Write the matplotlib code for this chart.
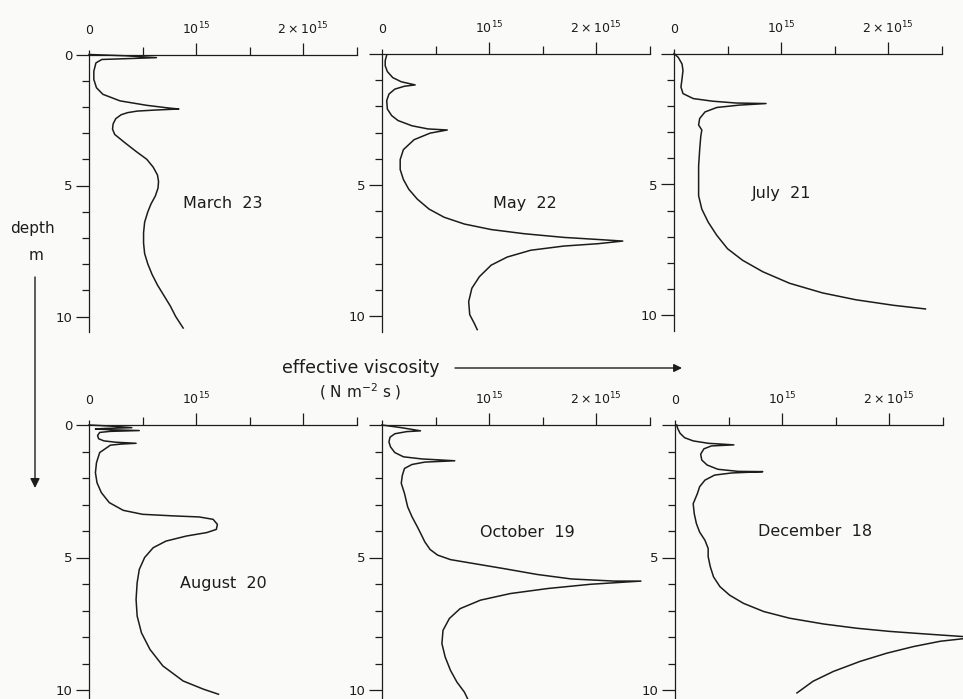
import matplotlib
matplotlib.use("Agg")
import matplotlib.pyplot as plt
from matplotlib.patches import FancyArrowPatch

plt.rcParams['font.family'] = ['DejaVu Sans']
plt.rcParams['mathtext.fontset'] = 'dejavusans'

INK = '#1c1c1c'
PAPER = '#fafaf8'
PT = 72.0 / 100.0  # points per pixel at 100 dpi

# Effective viscosity profiles: depth (m) and viscosity (units of 1e15 N m^-2 s)
march_depth = [0.00, 0.05, 0.12, 0.19, 0.32, 0.64, 0.95, 1.27, 1.52, 1.77, 1.94, 2.04, 2.08,
               2.12, 2.16, 2.22, 2.30, 2.45, 2.65, 2.85, 3.05, 3.35, 3.70, 4.00, 4.30, 4.60,
               4.85, 5.10, 5.40, 5.70, 6.00, 6.40, 6.80, 7.20, 7.60, 8.00, 8.40, 8.80, 9.20,
               9.60, 10.00, 10.44]
march_visc = [0.00, 0.35, 0.63, 0.12, 0.065, 0.045, 0.045, 0.07, 0.13, 0.29, 0.54, 0.74, 0.84,
              0.62, 0.45, 0.36, 0.30, 0.25, 0.225, 0.22, 0.24, 0.33, 0.44, 0.54, 0.60, 0.64,
              0.65, 0.645, 0.62, 0.58, 0.55, 0.52, 0.51, 0.51, 0.52, 0.55, 0.59, 0.64, 0.70,
              0.76, 0.81, 0.88]

may_depth = [0.04, 0.25, 0.45, 0.67, 0.90, 1.06, 1.18, 1.23, 1.34, 1.53, 1.78, 2.10, 2.35,
             2.54, 2.74, 2.86, 2.90, 3.02, 3.27, 3.65, 4.03, 4.41, 4.79, 5.16, 5.54, 5.92,
             6.23, 6.49, 6.70, 6.86, 7.00, 7.08, 7.14, 7.24, 7.33, 7.49, 7.75, 8.06, 8.50,
             8.94, 9.45, 9.95, 10.26, 10.52]
may_visc = [0.044, 0.03, 0.03, 0.05, 0.10, 0.18, 0.31, 0.21, 0.12, 0.065, 0.044, 0.05, 0.09,
            0.15, 0.28, 0.43, 0.61, 0.45, 0.30, 0.20, 0.17, 0.17, 0.20, 0.25, 0.33, 0.44,
            0.58, 0.77, 1.02, 1.33, 1.70, 2.02, 2.25, 2.02, 1.70, 1.39, 1.17, 1.02, 0.91,
            0.84, 0.81, 0.82, 0.86, 0.89]

july_depth = [0.00, 0.15, 0.40, 0.65, 0.97, 1.28, 1.53, 1.72, 1.82, 1.89, 1.91, 1.97, 2.06,
              2.23, 2.48, 2.73, 2.92, 3.17, 3.67, 4.30, 4.93, 5.43, 5.94, 6.44, 6.94, 7.45,
              7.89, 8.33, 8.77, 9.14, 9.40, 9.61, 9.75]
july_visc = [0.00, 0.04, 0.075, 0.084, 0.075, 0.065, 0.084, 0.18, 0.36, 0.58, 0.86, 0.61, 0.40,
             0.29, 0.24, 0.23, 0.26, 0.25, 0.24, 0.23, 0.23, 0.23, 0.26, 0.32, 0.40, 0.50,
             0.64, 0.83, 1.08, 1.39, 1.70, 2.05, 2.35]

august_depth = [0.00, 0.04, 0.10, 0.13, 0.15, 0.18, 0.21, 0.24, 0.28, 0.40, 0.52, 0.60, 0.65,
                0.69, 0.72, 0.76, 0.79, 1.04, 1.42, 1.80, 2.18, 2.55, 2.93, 3.22, 3.37, 3.43,
                3.47, 3.56, 3.75, 3.94, 4.06, 4.19, 4.38, 4.63, 5.00, 5.45, 5.95, 6.58, 7.21,
                7.84, 8.47, 9.09, 9.66, 9.97, 10.16]
august_visc = [0.00, 0.20, 0.40, 0.15, 0.06, 0.20, 0.47, 0.20, 0.10, 0.08, 0.09, 0.14, 0.25,
               0.44, 0.30, 0.20, 0.19, 0.10, 0.07, 0.06, 0.075, 0.115, 0.19, 0.32, 0.50, 0.79,
               1.03, 1.16, 1.20, 1.19, 1.10, 0.91, 0.72, 0.60, 0.52, 0.47, 0.45, 0.44, 0.45,
               0.49, 0.57, 0.69, 0.88, 1.07, 1.21]

october_depth = [0.00, 0.10, 0.22, 0.25, 0.33, 0.46, 0.64, 0.83, 1.04, 1.20, 1.28, 1.35, 1.40,
                 1.49, 1.64, 1.90, 2.20, 2.58, 3.09, 3.46, 3.84, 4.16, 4.41, 4.70, 4.91, 5.08,
                 5.23, 5.42, 5.64, 5.81, 5.89, 5.89, 6.01, 6.17, 6.36, 6.61, 6.93, 7.30, 7.75,
                 8.25, 8.75, 9.26, 9.70, 10.08, 10.33]
october_visc = [0.00, 0.18, 0.36, 0.23, 0.12, 0.075, 0.065, 0.08, 0.12, 0.20, 0.37, 0.68, 0.40,
                0.28, 0.21, 0.19, 0.18, 0.21, 0.24, 0.28, 0.33, 0.37, 0.40, 0.45, 0.52, 0.64,
                0.86, 1.14, 1.45, 1.77, 2.17, 2.42, 1.95, 1.55, 1.20, 0.92, 0.73, 0.63, 0.57,
                0.56, 0.59, 0.64, 0.70, 0.77, 0.80]

december_depth = [0.00, 0.13, 0.31, 0.48, 0.60, 0.69, 0.75, 0.79, 0.90, 1.10, 1.32, 1.51, 1.67,
                  1.75, 1.76, 1.81, 1.89, 2.08, 2.33, 2.58, 2.97, 3.35, 3.72, 4.04, 4.35, 4.66,
                  4.97, 5.35, 5.73, 6.10, 6.42, 6.73, 7.04, 7.29, 7.51, 7.67, 7.79, 7.88, 7.98,
                  8.02, 8.07, 8.16, 8.36, 8.61, 8.92, 9.30, 9.67, 10.11]
december_visc = [0.016, 0.025, 0.047, 0.09, 0.17, 0.31, 0.55, 0.34, 0.27, 0.24, 0.25, 0.30, 0.40,
                 0.59, 0.82, 0.53, 0.37, 0.28, 0.23, 0.21, 0.17, 0.18, 0.20, 0.23, 0.28, 0.31,
                 0.31, 0.33, 0.36, 0.42, 0.51, 0.64, 0.83, 1.07, 1.39, 1.70, 2.01, 2.32, 2.68,
                 2.85, 2.68, 2.48, 2.23, 1.98, 1.73, 1.48, 1.29, 1.14]

panel_dates = ['March  23', 'May  22', 'July  21', 'August  20', 'October  19', 'December  18']
# label anchor (left edge in viscosity units, baseline depth in m)
label_x = [0.88, 1.04, 0.73, 0.85, 0.92, 0.78]
label_y = [5.86, 5.86, 5.50, 6.15, 4.23, 4.19]

profiles = [(march_depth, march_visc), (may_depth, may_visc), (july_depth, july_visc),
            (august_depth, august_visc), (october_depth, october_visc),
            (december_depth, december_visc)]

x_major = [0, 1, 2]
x_major_labels = ['0', r'$10^{15}$', r'$2\times10^{15}$']
x_minor = [0.5, 1.5, 2.5]
depth_major = [0, 5, 10]
depth_major_labels = ['0', '5', '10']
depth_minor = [1, 2, 3, 4, 6, 7, 8, 9]
# tick labels left out where neighbouring axes or the unit caption sit
hidden_xlabels = {3: [2], 4: [0]}
hidden_ylabels = {1: [0], 2: [0], 4: [0], 5: [0]}

W, H = 963, 699
fig = plt.figure(figsize=(W / 100, H / 100), dpi=100, facecolor=PAPER)

XMAX = 2.5
DMAX = 10.6
PX_PER_UNIT = 107.0
# panel origins in pixels (axis corner) and vertical pixels per metre
origins = [(89, 54.5, 26.2), (382, 54.0, 26.2), (674, 53.5, 26.2),
           (89, 425.0, 26.5), (382, 425.0, 26.5), (675, 425.0, 26.5)]

for i, ((depth, visc), (ox, oy, ppm)) in enumerate(zip(profiles, origins)):
    w = XMAX * PX_PER_UNIT
    h = DMAX * ppm
    ax = fig.add_axes([ox / W, 1 - (oy + h) / H, w / W, h / H])
    ax.set_facecolor('none')
    ax.set_xlim(0, XMAX)
    ax.set_ylim(DMAX, 0)
    for s in ('right', 'bottom'):
        ax.spines[s].set_visible(False)
    for s in ('left', 'top'):
        ax.spines[s].set_color(INK)
        ax.spines[s].set_linewidth(0.9)

    ax.xaxis.tick_top()
    ax.set_xticks(x_major)
    ax.set_xticklabels([('' if k in hidden_xlabels.get(i, []) else lab)
                        for k, lab in enumerate(x_major_labels)])
    ax.set_xticks(x_minor, minor=True)
    ax.tick_params(axis='x', which='major', length=12 * PT, width=0.9, color=INK,
                   labelsize=9, pad=4, labelcolor=INK)
    ax.tick_params(axis='x', which='minor', length=8 * PT, width=0.9, color=INK)
    ax.xaxis.get_major_ticks()[0].tick2line.set_markersize(5 * PT)

    ax.set_yticks(depth_major)
    ax.set_yticklabels([('' if k in hidden_ylabels.get(i, []) else lab)
                        for k, lab in enumerate(depth_major_labels)])
    ax.set_yticks(depth_minor, minor=True)
    ax.tick_params(axis='y', which='major', length=13 * PT, width=0.9, color=INK,
                   labelsize=9.5, pad=2.5, labelcolor=INK)
    ax.tick_params(axis='y', which='minor', length=7 * PT, width=0.9, color=INK)

    ax.plot(visc, depth, color=INK, lw=1.1, solid_joinstyle='round', clip_on=False)
    ax.text(label_x[i], label_y[i], panel_dates[i], fontsize=11.5, color=INK,
            ha='left', va='baseline')

# depth axis caption with downward arrow
fig.text(32 / W, 1 - 233 / H, 'depth', fontsize=11, color=INK, ha='center', va='baseline')
fig.text(36 / W, 1 - 260 / H, 'm', fontsize=11, color=INK, ha='center', va='baseline')
fig.add_artist(FancyArrowPatch((35 / W, 1 - 277 / H), (35 / W, 1 - 488 / H),
                               transform=fig.transFigure, arrowstyle='-|>',
                               mutation_scale=14, color=INK, lw=1.0,
                               shrinkA=0, shrinkB=0))

# viscosity caption with rightward arrow
fig.text(282 / W, 1 - 373 / H, 'effective viscosity', fontsize=12.5, color=INK,
         ha='left', va='baseline')
fig.text(319 / W, 1 - 398 / H, r'( N m$^{-2}$ s )', fontsize=11, color=INK,
         ha='left', va='baseline')
fig.add_artist(FancyArrowPatch((455 / W, 1 - 368 / H), (682 / W, 1 - 368 / H),
                               transform=fig.transFigure, arrowstyle='-|>',
                               mutation_scale=12, color=INK, lw=1.0,
                               shrinkA=0, shrinkB=0))

fig.savefig('out.png', dpi=100, facecolor=PAPER)
